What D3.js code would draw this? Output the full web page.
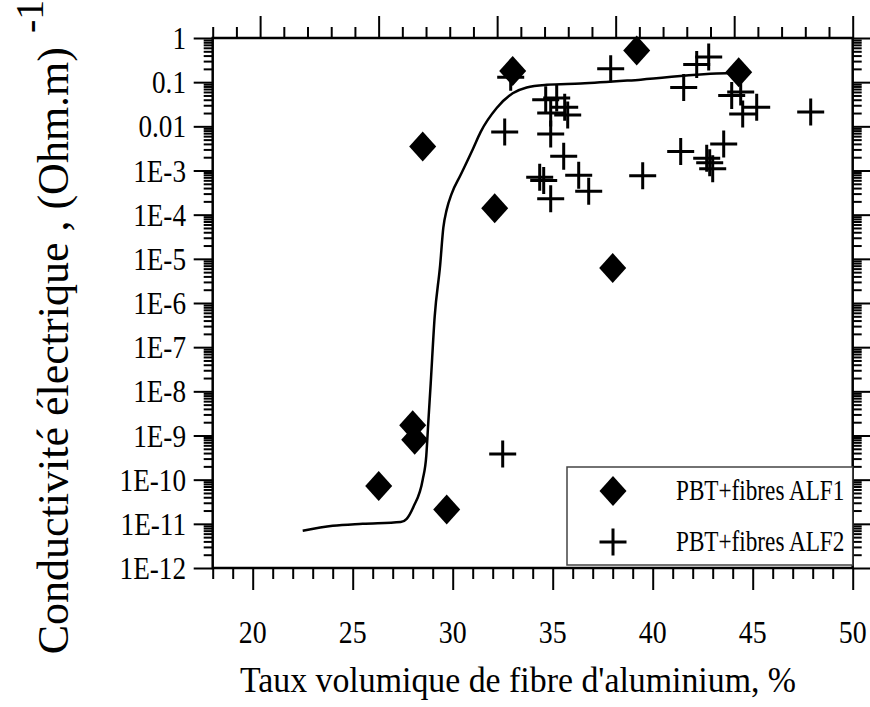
<!DOCTYPE html>
<html>
<head>
<meta charset="utf-8">
<script src="https://cdn.jsdelivr.net/npm/d3@7"></script>
<style>
  body { margin: 0; background: #fff; }
</style>
</head>
<body>
<div id="chart"></div>
<script>
// PBT + fibres ALF1 (diamonds)
const alf1X = [26.3, 28.0, 28.1, 28.5, 29.7, 32.1, 33.0, 38.0, 39.2, 44.3];
const alf1Y = [7.2e-11, 1.7e-9, 8e-10, 3.5e-3, 2.1e-11, 1.4e-4, 0.18, 6.2e-6, 0.52, 0.167];

// PBT + fibres ALF2 (crosses)
const alf2X = [32.5, 32.6, 32.9, 34.35, 34.55, 34.65, 34.9, 34.9, 34.9, 35.2,
               35.6, 35.55, 35.75, 36.3, 36.8, 37.9, 39.5, 41.4, 41.55, 42.2,
               42.8, 42.7, 42.85, 43.0, 43.55, 43.95, 44.4, 44.5, 45.2, 47.9];
const alf2Y = [3.8e-10, 7.4e-3, 0.13, 7.0e-4, 5.9e-4, 0.040, 0.020, 6.7e-3, 2.3e-4, 0.044,
               0.027, 2.1e-3, 0.018, 7.8e-4, 3.4e-4, 0.20, 7.6e-4, 2.7e-3, 0.076, 0.25,
               0.37, 1.9e-3, 1.5e-3, 1.1e-3, 4.0e-3, 0.05, 0.060, 0.019, 0.027, 0.021];

// fitted trend line
const curveX = [22.5, 24.0, 25.5, 27.4, 27.7, 28.05, 28.5, 28.68, 28.78, 28.9,
                29.1, 29.37, 29.53, 29.7, 29.95, 30.4, 31.0, 31.4, 32.2, 33.0,
                33.7, 34.7, 36.4, 39.4, 43.7, 44.0];
const curveY = [7e-12, 9e-12, 1.0e-11, 1.1e-11, 1.3e-11, 2.5e-11, 1e-10, 3.5e-10, 2e-9, 1.5e-8,
                5e-7, 7e-6, 5e-5, 1.3e-4, 3e-4, 8e-4, 3e-3, 7.5e-3, 0.026, 0.056,
                0.076, 0.087, 0.093, 0.114, 0.16, 0.155];

const xTicks = [20, 25, 30, 35, 40, 45, 50];
const yTicks = [1, 0.1, 0.01, 1e-3, 1e-4, 1e-5, 1e-6, 1e-7, 1e-8, 1e-9, 1e-10, 1e-11, 1e-12];
const yTickLabels = ["1", "0.1", "0.01", "1E-3", "1E-4", "1E-5", "1E-6", "1E-7", "1E-8",
                     "1E-9", "1E-10", "1E-11", "1E-12"];
const legendLabels = ["PBT+fibres ALF1", "PBT+fibres ALF2"];

const width = 870, height = 707;
const plotL = 212.7, plotR = 852.7, plotT = 38, plotB = 568;
const serif = "'Liberation Serif', 'Times New Roman', 'DejaVu Serif', serif";

const svg = d3.select("#chart")
    .append("svg")
    .attr("width", width)
    .attr("height", height)
    .attr("font-family", serif);

const x = d3.scaleLinear().domain([18, 50]).range([plotL, plotR]);
const xTop = d3.scaleLinear().domain([-2, 25]).range([plotL, plotR]);
const y = d3.scaleLog().domain([1e-12, 1]).range([plotB, plotT]);

const yMinor = [];
for (let k = -12; k < 0; k++) {
    for (let m = 2; m <= 9; m++) yMinor.push(m * Math.pow(10, k));
}

function tickAxis(axis, values, size, tx, ty) {
    const g = svg.append("g")
        .attr("transform", `translate(${tx},${ty})`)
        .call(axis.tickValues(values).tickSize(size).tickSizeOuter(0).tickFormat(""));
    g.attr("font-family", null);
    g.select(".domain").remove();
    g.selectAll("line").attr("stroke", "#000").attr("stroke-width", 2);
}

// bottom
tickAxis(d3.axisBottom(x), xTicks, 22, 0, plotB);
tickAxis(d3.axisBottom(x), d3.range(18, 51).filter(v => v % 5 !== 0), 11, 0, plotB);
// top
tickAxis(d3.axisTop(xTop), d3.range(0, 26, 5), 22, 0, plotT);
tickAxis(d3.axisTop(xTop), d3.range(-2, 26).filter(v => v % 5 !== 0), 11, 0, plotT);
// left / right
tickAxis(d3.axisLeft(y), yTicks, 19, plotL, 0);
tickAxis(d3.axisLeft(y), yMinor, 9, plotL, 0);
tickAxis(d3.axisRight(y), yTicks, 19, plotR, 0);
tickAxis(d3.axisRight(y), yMinor, 9, plotR, 0);

// frame
svg.append("rect")
    .attr("x", plotL).attr("y", plotT)
    .attr("width", plotR - plotL).attr("height", plotB - plotT)
    .attr("fill", "none").attr("stroke", "#000").attr("stroke-width", 2.5);

// tick labels
svg.selectAll(".xlab")
    .data(xTicks)
    .enter().append("text")
    .attr("transform", d => `translate(${x(d)},643) scale(0.87,1)`)
    .attr("text-anchor", "middle")
    .attr("font-size", 32)
    .text(d => d);

svg.selectAll(".ylab")
    .data(yTicks)
    .enter().append("text")
    .attr("transform", d => `translate(186,${y(d) + 11}) scale(0.85,1)`)
    .attr("text-anchor", "end")
    .attr("font-size", 32)
    .text((d, i) => yTickLabels[i]);

// axis titles
svg.append("text")
    .attr("transform", "translate(518,692) scale(0.94,1)")
    .attr("text-anchor", "middle")
    .attr("font-size", 36)
    .text("Taux volumique de fibre d'aluminium, %");

svg.append("text")
    .attr("transform", "translate(68,47) rotate(-90)")
    .attr("text-anchor", "end")
    .attr("font-size", 44)
    .text("Conductivité électrique , (Ohm.m)");

svg.append("text")
    .attr("transform", "translate(43,33) rotate(-90)")
    .attr("text-anchor", "start")
    .attr("font-size", 40)
    .text("-1");

// trend line
const line = d3.line()
    .x(d => x(d[0]))
    .y(d => y(d[1]))
    .curve(d3.curveMonotoneX);

svg.append("path")
    .datum(curveX.map((v, i) => [v, curveY[i]]))
    .attr("d", line)
    .attr("fill", "none")
    .attr("stroke", "#000")
    .attr("stroke-width", 2.5);

const diamond = "M0,-15L13.5,0L0,15L-13.5,0Z";
const cross = "M-13.5,0H13.5M0,-13.5V13.5";

svg.selectAll(".alf2")
    .data(alf2X.map((v, i) => [v, alf2Y[i]]))
    .enter().append("path")
    .attr("transform", d => `translate(${x(d[0])},${y(d[1])})`)
    .attr("d", cross)
    .attr("stroke", "#000")
    .attr("stroke-width", 3)
    .attr("fill", "none");

svg.selectAll(".alf1")
    .data(alf1X.map((v, i) => [v, alf1Y[i]]))
    .enter().append("path")
    .attr("transform", d => `translate(${x(d[0])},${y(d[1])})`)
    .attr("d", diamond)
    .attr("fill", "#000");

// legend
const lg = svg.append("g");
lg.append("rect")
    .attr("x", 567).attr("y", 467)
    .attr("width", plotR - 567).attr("height", 98)
    .attr("fill", "#fff").attr("stroke", "#444").attr("stroke-width", 1.5);
lg.append("path")
    .attr("transform", "translate(613,491)")
    .attr("d", diamond).attr("fill", "#000");
lg.append("path")
    .attr("transform", "translate(613,542)")
    .attr("d", cross).attr("stroke", "#000").attr("stroke-width", 3);
lg.selectAll(".lt")
    .data(legendLabels)
    .enter().append("text")
    .attr("transform", (d, i) => `translate(676,${500 + i * 51}) scale(0.8,1)`)
    .attr("font-size", 29)
    .text(d => d);
</script>
</body>
</html>
